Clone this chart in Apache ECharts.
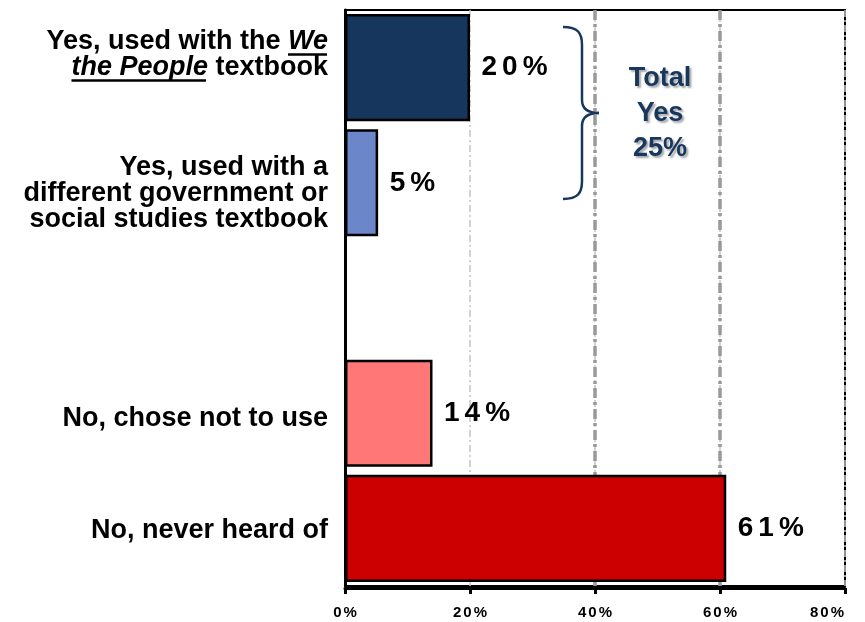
<!DOCTYPE html>
<html><head><meta charset="utf-8">
<script src="https://cdn.jsdelivr.net/npm/echarts@6/dist/echarts.min.js"></script>
<style>html,body{margin:0;padding:0;background:#fff}#c{width:865px;height:622px}</style>
</head><body><div id="c"></div>
<script>
(function () {
// ---- data ----
const categories = [
  'Yes, used with the We the People textbook',
  'Yes, used with a different government or social studies textbook',
  '',
  'No, chose not to use',
  'No, never heard of'
];
const values = [20, 5.3, null, 14, 61];
const xTickValues = [0, 20, 40, 60, 80];
const totalYesLines = ['Total', 'Yes', '25%'];

// ---- styles ----
const barColors = ['#17365D', '#6B87C9', '#FFFFFF', '#FF7777', '#CC0000'];
const FONT = '"Liberation Sans", Arial, sans-serif';
const LFS = 27;      // category label font size
const LLH = 26;      // category label line height
const GRID_L = 345, GRID_R = 20, GRID_T = 10, GRID_B = 36;
const LABEL_MARGIN = 17;
const labelShift = [-13, 11, 0, 5, 2]; // vertical shift of label blocks (px)

const richLabels = [
  '{n|Yes, used with the }{i|We}\n{i|the People}{n| textbook}',
  '{n|Yes, used with a}\n{n|different government or}\n{n|social studies textbook}',
  '',
  '{n|No, chose not to use}',
  '{n|No, never heard of}'
];

const chart = echarts.init(document.getElementById('c'), null, {renderer: 'canvas'});

const spaced = s => String(s).split('').map(ch => '{s|' + ch + '}').join('');

const option = {
  animation: false,
  backgroundColor: '#fff',
  textStyle: {fontFamily: FONT},
  grid: {left: GRID_L, right: GRID_R, top: GRID_T, bottom: GRID_B,
         show: true, borderColor: '#000', borderWidth: 2, backgroundColor: 'transparent'},
  xAxis: {
    type: 'value', min: xTickValues[0], max: xTickValues[xTickValues.length - 1], interval: 20,
    offset: 2,
    axisLine: {show: true, lineStyle: {color: '#000', width: 3}},
    axisTick: {show: true, length: 6, lineStyle: {color: '#000', width: 3}},
    axisLabel: {
      margin: 17,
      alignMaxLabel: 'right',
      formatter: v => spaced(v + '%'),
      rich: {s: {fontSize: 15, fontWeight: 'bold', color: '#000', fontFamily: FONT, padding: [0, 1]}}
    },
    splitLine: {show: true, lineStyle: {color: '#c4c4c4', width: 1.5, type: [7, 3, 2, 3]}}
  },
  yAxis: {
    type: 'category', inverse: true,
    data: categories.map((c, i) => ({
      value: c,
      textStyle: {padding: labelShift[i] < 0 ? [0, 0, -2 * labelShift[i], 0] : [2 * labelShift[i], 0, 0, 0]}
    })),
    axisLine: {show: true, lineStyle: {color: '#000', width: 3}},
    axisTick: {show: false},
    axisLabel: {
      margin: LABEL_MARGIN,
      interval: 0,
      formatter: (v, idx) => richLabels[idx],
      rich: {
        n: {fontSize: LFS, fontWeight: 'bold', color: '#000', fontFamily: FONT, lineHeight: LLH},
        i: {fontSize: LFS, fontWeight: 'bold', fontStyle: 'italic', color: '#000', fontFamily: FONT, lineHeight: LLH}
      }
    },
    splitLine: {show: false}
  },
  series: [{
    type: 'bar',
    data: values,
    barCategoryGap: '7%',
    itemStyle: {
      color: p => barColors[p.dataIndex],
      borderColor: '#000', borderWidth: 2.5
    },
    label: {
      show: true, position: 'right', distance: 9,
      formatter: p => p.value == null ? '' : spaced(Math.round(p.value) + '%'),
      rich: {s: {fontSize: 28, fontWeight: 'bold', color: '#000', fontFamily: FONT, padding: [0, 2.5]}}
    },
    markLine: {
      silent: true, symbol: 'none', z: 1,
      label: {show: false},
      lineStyle: {color: '#999', width: 3.5, type: [10, 4, 3, 4]},
      data: [{xAxis: xTickValues[2]}, {xAxis: xTickValues[3]}]
    }
  }]
};
chart.setOption(option);

// ---- annotations: underlines, brace, "Total Yes 25%" ----
const ctx = document.createElement('canvas').getContext('2d');
function tw(txt, italic) {
  ctx.font = (italic ? 'italic ' : '') + 'bold ' + LFS + 'px ' + FONT;
  return ctx.measureText(txt).width;
}
const rightX = GRID_L - LABEL_MARGIN;
const y0 = chart.convertToPixel({yAxisIndex: 0}, categories[0]);
const blockC = y0 + labelShift[0];
const l1 = blockC - LLH / 2, l2 = blockC + LLH / 2;
const ulOff = 13;
const wWe = tw('We', true);
const wTb = tw(' textbook', false);
const wTP = tw('the People', true);

const bx = 563, bTop = 27, bBot = 199, bMid = 113, vx = bx + 19, tipx = bx + 36;
const braceStyle = {fill: 'none', stroke: '#17375E', lineWidth: 2.5};

chart.setOption({
  graphic: [
    {type: 'line', shape: {x1: rightX - wWe, y1: l1 + ulOff, x2: rightX - 1, y2: l1 + ulOff},
     style: {stroke: '#000', lineWidth: 2.5}},
    {type: 'line', shape: {x1: rightX - wTb - wTP, y1: l2 + ulOff, x2: rightX - wTb - 2, y2: l2 + ulOff},
     style: {stroke: '#000', lineWidth: 2.5}},
    // brace
    {type: 'bezierCurve', shape: {x1: bx, y1: bTop, cpx1: bx + 15, cpy1: bTop, cpx2: vx, cpy2: bTop + 6, x2: vx, y2: bTop + 18}, style: braceStyle},
    {type: 'line', shape: {x1: vx, y1: bTop + 18, x2: vx, y2: bMid - 13}, style: braceStyle},
    {type: 'bezierCurve', shape: {x1: vx, y1: bMid - 13, cpx1: vx, cpy1: bMid - 4, cpx2: vx + 6, cpy2: bMid, x2: tipx, y2: bMid}, style: braceStyle},
    {type: 'bezierCurve', shape: {x1: tipx, y1: bMid, cpx1: vx + 6, cpy1: bMid, cpx2: vx, cpy2: bMid + 4, x2: vx, y2: bMid + 13}, style: braceStyle},
    {type: 'line', shape: {x1: vx, y1: bMid + 13, x2: vx, y2: bBot - 18}, style: braceStyle},
    {type: 'bezierCurve', shape: {x1: vx, y1: bBot - 18, cpx1: vx, cpy1: bBot - 6, cpx2: bx + 15, cpy2: bBot, x2: bx, y2: bBot}, style: braceStyle},
    {type: 'text', x: 660, y: 61, z: 10,
     style: {text: totalYesLines.join('\n'), align: 'center', verticalAlign: 'top',
             font: 'bold 27px ' + FONT, lineHeight: 35, fill: '#17375E',
             textShadowColor: 'rgba(0,0,0,0.35)', textShadowOffsetX: 2, textShadowOffsetY: 2, textShadowBlur: 2}}
  ]
});
})();
</script>
</body></html>
